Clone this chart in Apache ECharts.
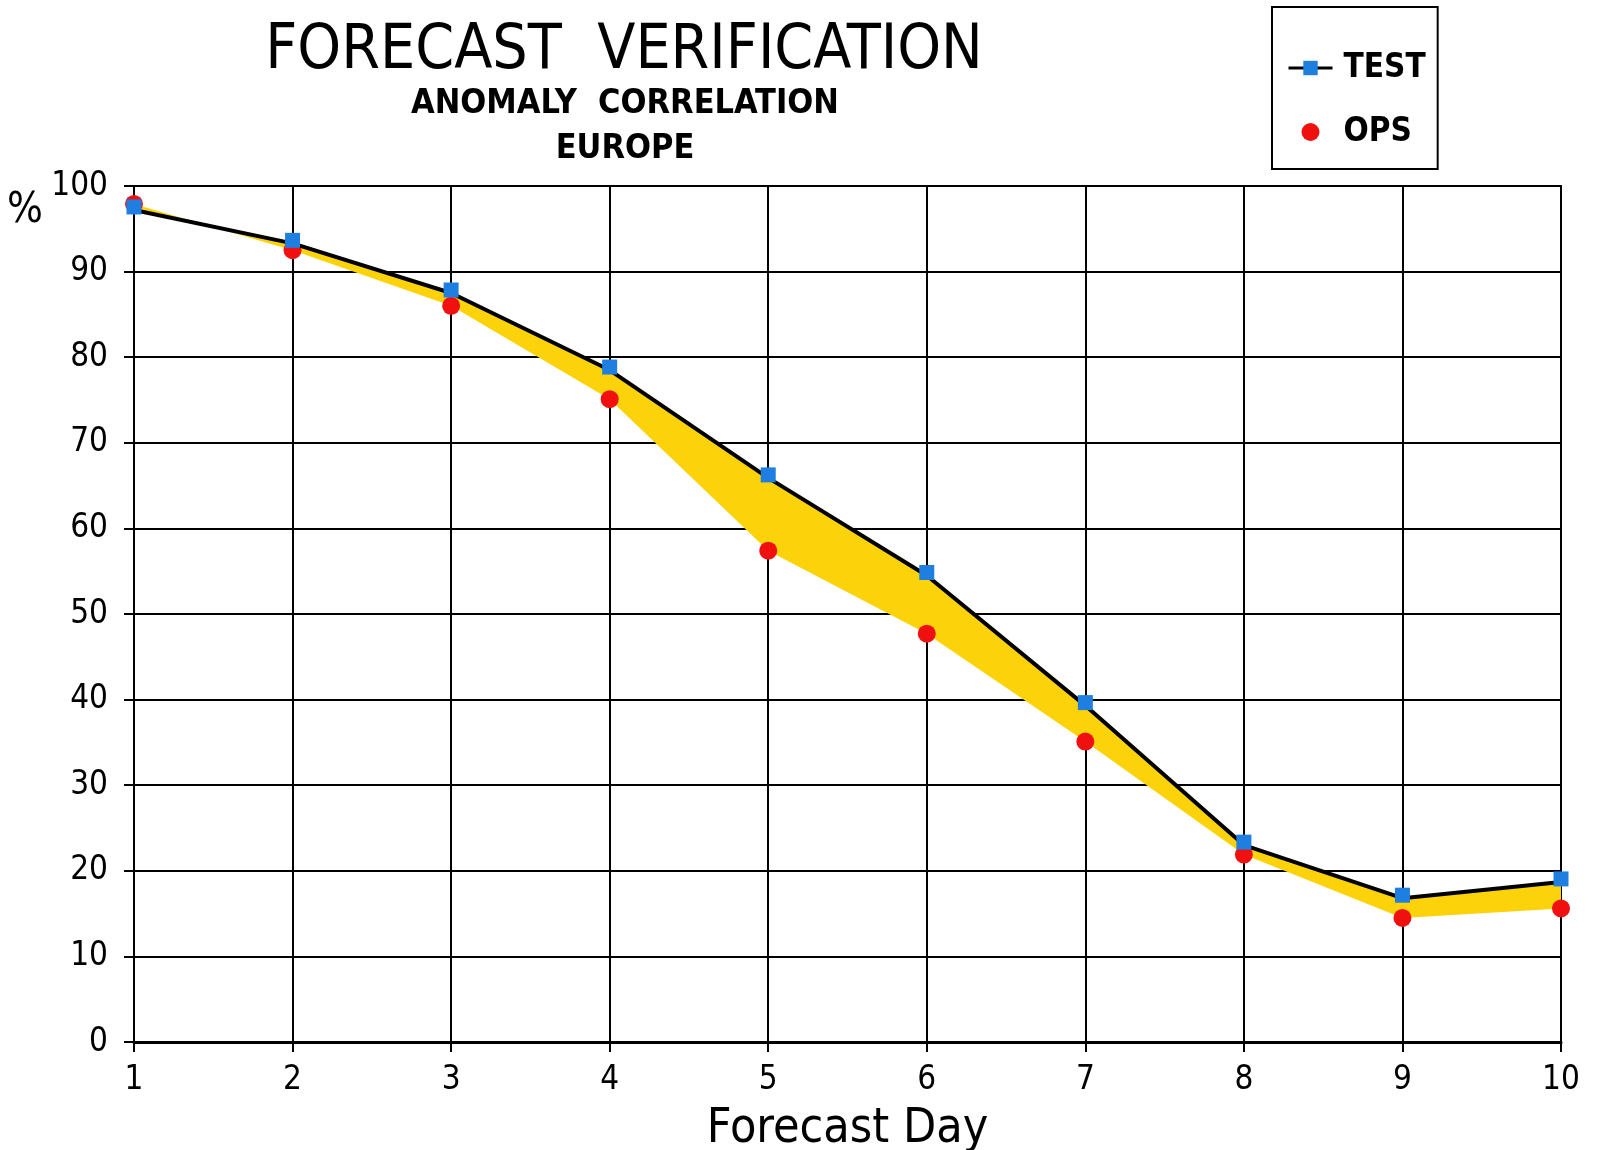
<!DOCTYPE html>
<html>
<head>
<meta charset="utf-8">
<title>Forecast Verification</title>
<script src="https://cdn.jsdelivr.net/npm/echarts@6/dist/echarts.min.js"></script>
<style>
  html, body { margin: 0; padding: 0; background: #fff; }
  #chart { width: 1608px; height: 1150px; }
</style>
</head>
<body>
<div id="chart"></div>
<script>
// 预报日（x 轴）
const days = ['1', '2', '3', '4', '5', '6', '7', '8', '9', '10'];
// 距平相关系数 %
const testScores = [97.2, 93.3, 87.5, 78.5, 65.9, 54.5, 39.3, 23.0, 16.8, 18.7];
const opsScores = [97.9, 92.5, 86.0, 75.1, 57.4, 47.7, 35.1, 21.9, 14.5, 15.6];

const FONT = '"DejaVu Sans Condensed", "DejaVu Sans", sans-serif';

// 黄色带 = TEST 与 OPS 之差，叠在 OPS 上
let bandGap = [];
for (let i in testScores) {
  bandGap.push(+(testScores[i] - opsScores[i]).toFixed(2));
}

let myChart = echarts.init(document.getElementById('chart'));

let option = {
  backgroundColor: '#ffffff',
  animation: false,
  textStyle: {fontFamily: FONT},
  grid: {
    left: 134, right: 47, top: 186, bottom: 108,
    outerBoundsMode: 'none',
    containLabel: false,
    show: true, borderColor: '#000', borderWidth: 2
  },
  legend: {
    orient: 'vertical',
    left: 1272,
    top: 7,
    padding: [44, 12, 20, 15],
    borderColor: '#000',
    borderWidth: 2,
    itemGap: 30,
    itemWidth: 44,
    itemHeight: 18,
    selectedMode: false,
    textStyle: {fontFamily: FONT, fontSize: 33, fontWeight: 'bold', color: '#000', padding: [0, 0, 0, 6], lineHeight: 34},
    data: [
      {name: 'TEST', lineStyle: {color: '#000', width: 3}},
      {name: 'OPS', icon: 'circle'}
    ]
  },
  graphic: [
    {type: 'text', x: 624, y: 52, style: {text: 'FORECAST  VERIFICATION', fontFamily: FONT, fontSize: 62, fill: '#000', textAlign: 'center', textVerticalAlign: 'middle'}},
    {type: 'text', x: 625, y: 104, style: {text: 'ANOMALY  CORRELATION', fontFamily: FONT, fontSize: 34, fontWeight: 'bold', fill: '#000', textAlign: 'center', textVerticalAlign: 'middle'}},
    {type: 'text', x: 625, y: 149, style: {text: 'EUROPE', fontFamily: FONT, fontSize: 34, fontWeight: 'bold', fill: '#000', textAlign: 'center', textVerticalAlign: 'middle'}},
    {type: 'text', x: 25, y: 211, style: {text: '%', fontFamily: FONT, fontSize: 42, fill: '#000', textAlign: 'center', textVerticalAlign: 'middle'}}
  ],
  xAxis: {
    type: 'category',
    data: days,
    boundaryGap: false,
    name: 'Forecast Day',
    nameLocation: 'middle',
    nameGap: 64,
    nameTextStyle: {fontFamily: FONT, fontSize: 48, color: '#000'},
    axisLine: {lineStyle: {color: '#000', width: 3}},
    axisTick: {show: true, length: 10, lineStyle: {color: '#000', width: 2}},
    axisLabel: {fontFamily: FONT, fontSize: 33, color: '#000', margin: 22},
    splitLine: {show: true, lineStyle: {color: '#000', width: 2}}
  },
  yAxis: {
    type: 'value',
    min: 0,
    max: 100,
    interval: 10,
    axisLine: {show: true, lineStyle: {color: '#000', width: 2}},
    axisTick: {show: true, length: 10, lineStyle: {color: '#000', width: 2}},
    axisLabel: {fontFamily: FONT, fontSize: 33, color: '#000', margin: 26},
    splitLine: {show: true, lineStyle: {color: '#000', width: 2}}
  },
  series: [
    {
      name: 'base',
      type: 'line',
      stack: 'band',
      stackStrategy: 'all',
      data: opsScores,
      symbol: 'none',
      silent: true,
      lineStyle: {width: 0, opacity: 0},
      z: 1
    },
    {
      name: 'band',
      type: 'line',
      stack: 'band',
      stackStrategy: 'all',
      data: bandGap,
      symbol: 'none',
      silent: true,
      lineStyle: {width: 0, opacity: 0},
      areaStyle: {color: '#fcd20a', opacity: 1},
      z: 1
    },
    {
      name: 'OPS',
      type: 'scatter',
      data: opsScores,
      symbol: 'circle',
      symbolSize: 18,
      itemStyle: {color: '#f01010', opacity: 1},
      z: 3
    },
    {
      name: 'TEST',
      type: 'line',
      data: testScores,
      symbol: 'rect',
      symbolSize: 15,
      symbolOffset: [0, -3],
      showAllSymbol: true,
      itemStyle: {color: '#1f7fe0'},
      lineStyle: {color: '#000', width: 4},
      z: 4
    }
  ]
};

myChart.setOption(option);
window.onresize = myChart.resize;
</script>
</body>
</html>
